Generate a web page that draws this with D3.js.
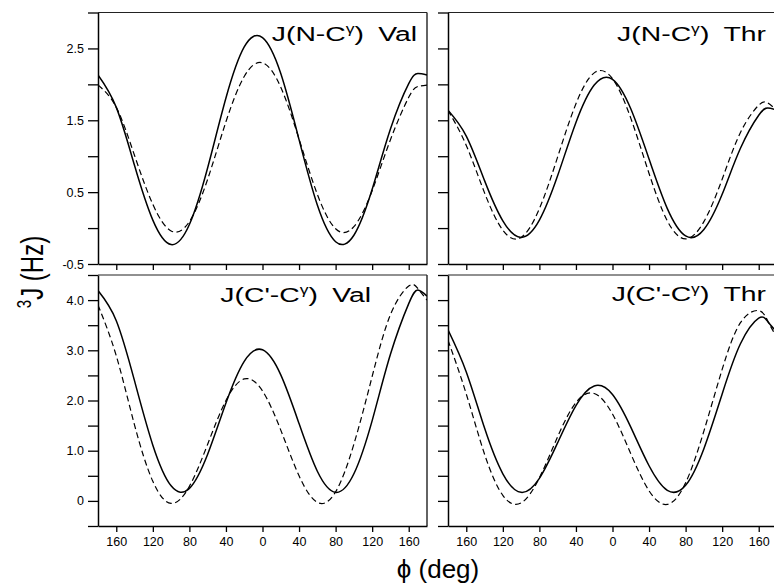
<!DOCTYPE html>
<html>
<head>
<meta charset="utf-8">
<script src="https://cdn.jsdelivr.net/npm/d3@7"></script>
<style>
  html, body { margin: 0; padding: 0; background: #fff; }
  svg { display: block; }
  text { font-family: "Liberation Sans", Arial, Helvetica, sans-serif; fill: #000; }
</style>
</head>
<body>
<svg id="chart" width="774" height="586"></svg>
<script>
// Backbone dihedral angle phi (deg) at which the couplings are sampled
const phi = [-180, -160, -140, -120, -100, -80, -60, -40, -20, 0, 20, 40, 60, 80, 100, 120, 140, 160, 170, 180];

// 3J(N-Cγ) for Val, solid and dashed parameterisations (Hz)
const nValSolid  = [2.13, 1.68, 0.87, 0.11, -0.23, 0.05, 0.84, 1.81, 2.52, 2.65, 2.15, 1.23, 0.32, -0.19, -0.10, 0.54, 1.38, 2.01, 2.15, 2.13];
const nValDashed = [1.99, 1.68, 1.01, 0.33, -0.04, 0.09, 0.68, 1.48, 2.11, 2.30, 1.96, 1.24, 0.47, -0.01, 0.02, 0.52, 1.23, 1.82, 1.97, 1.99];

// 3J(N-Cγ) for Thr
const nThrSolid  = [1.64, 1.28, 0.66, 0.10, -0.13, 0.11, 0.73, 1.47, 1.99, 2.07, 1.66, 0.96, 0.27, -0.11, -0.02, 0.47, 1.11, 1.57, 1.67, 1.64];
const nThrDashed = [1.64, 1.15, 0.49, -0.03, -0.13, 0.27, 0.99, 1.73, 2.16, 2.08, 1.53, 0.76, 0.10, -0.15, 0.09, 0.68, 1.33, 1.71, 1.74, 1.64];

// 3J(C'-Cγ) for Val
const cValSolid  = [4.19, 3.59, 2.39, 1.11, 0.30, 0.25, 0.93, 1.95, 2.78, 3.01, 2.51, 1.54, 0.59, 0.17, 0.54, 1.60, 2.92, 3.93, 4.20, 4.08];
const cValDashed = [3.90, 2.89, 1.51, 0.39, -0.05, 0.29, 1.13, 2.00, 2.43, 2.19, 1.41, 0.50, -0.03, 0.18, 1.13, 2.48, 3.71, 4.28, 4.23, 4.00];

// 3J(C'-Cγ) for Thr
const cThrSolid  = [3.41, 2.57, 1.45, 0.54, 0.17, 0.45, 1.16, 1.90, 2.29, 2.12, 1.47, 0.70, 0.21, 0.31, 1.04, 2.13, 3.13, 3.64, 3.57, 3.36];
const cThrDashed = [3.20, 2.13, 0.93, 0.11, -0.04, 0.46, 1.28, 1.96, 2.14, 1.73, 0.94, 0.20, -0.07, 0.36, 1.39, 2.62, 3.55, 3.79, 3.58, 3.25];

// Axis ticks and labels
const xTicks = [-160, -120, -80, -40, 0, 40, 80, 120, 160];
const yTicksTop = [-0.5, 0, 0.5, 1, 1.5, 2, 2.5, 3];
const yLabelsTop = [-0.5, 0.5, 1.5, 2.5];
const yTicksBottom = [-0.5, 0, 0.5, 1, 1.5, 2, 2.5, 3, 3.5, 4, 4.5];
const yLabelsBottom = [0, 1, 2, 3, 4];

// Panel titles
const couplings = ["N-C", "C'-C"];
const residues = ["Val", "Thr"];

const svg = d3.select("#chart");

const cols = [
  { x0: 98, x1: 427 },
  { x0: 448, x1: 777 }
];
const rows = [
  { domain: [-0.5, 3.0], range: [264, 12.5], ticks: yTicksTop, labels: yLabelsTop },
  { domain: [-0.5, 4.5], range: [526, 275], ticks: yTicksBottom, labels: yLabelsBottom }
];

const panels = [
  { row: 0, col: 0, solid: nValSolid, dashed: nValDashed, tx: 417, ty: 41 },
  { row: 0, col: 1, solid: nThrSolid, dashed: nThrDashed, tx: 766, ty: 41 },
  { row: 1, col: 0, solid: cValSolid, dashed: cValDashed, tx: 371, ty: 302 },
  { row: 1, col: 1, solid: cThrSolid, dashed: cThrDashed, tx: 766, ty: 301 }
];

const fmt = d => d === 0 ? "0" : d.toFixed(1);

panels.forEach((p, i) => {
  const c = cols[p.col], r = rows[p.row];
  const x = d3.scaleLinear().domain([-180, 180]).range([c.x0, c.x1]);
  const y = d3.scaleLinear().domain(r.domain).range(r.range);
  const g = svg.append("g");

  const clipId = "clip" + i;
  g.append("clipPath").attr("id", clipId)
    .append("rect")
    .attr("x", c.x0).attr("y", r.range[1])
    .attr("width", c.x1 - c.x0).attr("height", r.range[0] - r.range[1]);

  // frame: top and right edges
  g.append("line")
    .attr("x1", c.x0).attr("x2", c.x1)
    .attr("y1", r.range[1]).attr("y2", r.range[1])
    .attr("stroke", "#222").attr("stroke-width", 1.2);
  g.append("line")
    .attr("x1", c.x1).attr("x2", c.x1)
    .attr("y1", r.range[1]).attr("y2", r.range[0])
    .attr("stroke", "#222").attr("stroke-width", 1.4);

  // y axis
  const yAxis = d3.axisLeft(y)
    .tickValues(r.ticks)
    .tickSize(10)
    .tickSizeOuter(0)
    .tickPadding(4)
    .tickFormat(d => (p.col === 0 && r.labels.includes(d)) ? fmt(d) : "");
  const ya = g.append("g").attr("transform", `translate(${c.x0},0)`).call(yAxis);

  // x axis
  const xAxis = d3.axisBottom(x)
    .tickValues(xTicks)
    .tickSize(6)
    .tickSizeOuter(0)
    .tickPadding(5)
    .tickFormat(d => p.row === 1 ? String(Math.abs(d)) : "");
  const xa = g.append("g").attr("transform", `translate(0,${r.range[0]})`).call(xAxis);

  [ya, xa].forEach(a => {
    a.select(".domain").attr("stroke", "#000").attr("stroke-width", 1.5);
    a.selectAll(".tick line").attr("stroke", "#000").attr("stroke-width", 1.3);
    a.selectAll(".tick text")
      .style("font-family", '"Liberation Sans", Arial, sans-serif')
      .style("font-size", "12.5px")
      .attr("fill", "#000");
  });

  // coupling curves
  const line = d3.line()
    .x((d, k) => x(phi[k]))
    .y(d => y(d))
    .curve(d3.curveNatural);

  const curves = g.append("g").attr("clip-path", `url(#${clipId})`);
  curves.append("path")
    .datum(p.solid)
    .attr("d", line)
    .attr("fill", "none")
    .attr("stroke", "#000")
    .attr("stroke-width", 1.5);
  curves.append("path")
    .datum(p.dashed)
    .attr("d", line)
    .attr("fill", "none")
    .attr("stroke", "#000")
    .attr("stroke-width", 1.2)
    .attr("stroke-dasharray", "6,3.5");

  // panel title, e.g. J(N-Cγ) Val
  const t = g.append("g")
    .attr("transform", `translate(${p.tx},${p.ty}) scale(1.35,1)`)
    .append("text")
    .attr("text-anchor", "end")
    .style("font-size", "21px");
  t.append("tspan").text("J(");
  t.append("tspan").text(couplings[p.row]);
  t.append("tspan").attr("dy", -8).style("font-size", "13px").text("γ");
  t.append("tspan").attr("dy", 8).text(")\u2002" + residues[p.col]);
});

// axis titles
svg.append("g")
  .attr("transform", "translate(43,272) scale(1.3,1) rotate(-90)")
  .append("text")
  .attr("text-anchor", "middle")
  .style("font-size", "24px")
  .call(t => {
    t.append("tspan").attr("dy", -9).style("font-size", "15px").text("3");
    t.append("tspan").attr("dy", 9).text("J (Hz)");
  });

svg.append("text")
  .attr("x", 438).attr("y", 578)
  .attr("text-anchor", "middle")
  .style("font-size", "26px")
  .text("\u03D5 (deg)");
</script>
</body>
</html>
